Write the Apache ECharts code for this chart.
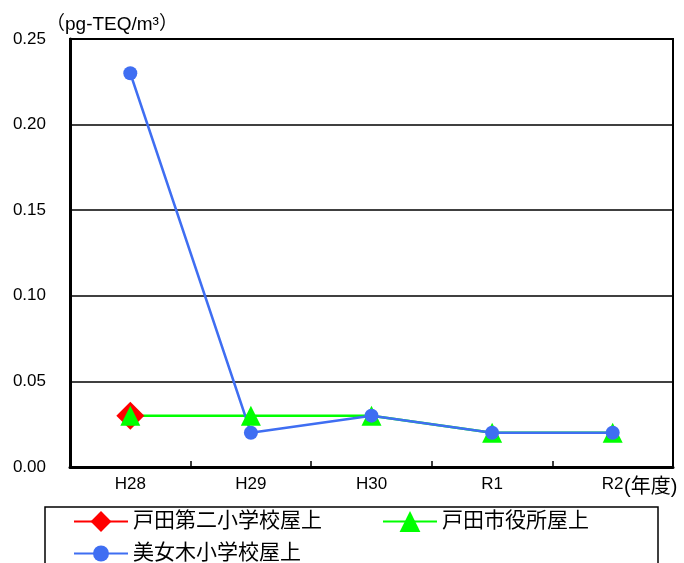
<!DOCTYPE html>
<html><head><meta charset="utf-8">
<script src="https://cdn.jsdelivr.net/npm/echarts@6/dist/echarts.min.js"></script>
<style>html,body{margin:0;padding:0;background:#fff}#c{width:684px;height:563px}</style>
</head><body><div id="c"></div>
<script>
const categories = ['H28', 'H29', 'H30', 'R1', 'R2'];
const seriesNames = ['戸田第二小学校屋上', '戸田市役所屋上', '美女木小学校屋上'];
const todaDaini = [0.03, null, null, null, null];
const shiyakusho = [0.03, 0.03, 0.03, 0.02, 0.02];
const bijogi = [0.23, 0.02, 0.03, 0.02, 0.02];
const yTicks = { min: 0, max: 0.25, interval: 0.05 };
const unitText = '（pg-TEQ/m³）';
const xUnitText = '(年度)';

const font = '"Liberation Sans", Arial, "Noto Sans CJK JP", sans-serif';
const chart = echarts.init(document.getElementById('c'));
chart.setOption({
  animation: false,
  textStyle: { fontFamily: font },
  title: { text: unitText, left: 46, top: 15, padding: 0, textStyle: { fontSize: 19, fontWeight: 'normal', color: '#000', fontFamily: font } },
  grid: { left: 70, right: 11, top: 39, bottom: 96, show: true, borderColor: '#000', borderWidth: 2, backgroundColor: 'transparent' },
  xAxis: {
    type: 'category', data: categories, boundaryGap: true,
    axisLine: { lineStyle: { color: '#000', width: 3 } },
    axisTick: { show: true, inside: true, length: 6, lineStyle: { color: '#000', width: 1.5 } },
    axisLabel: { color: '#000', fontSize: 17, margin: 9, fontFamily: font }
  },
  yAxis: {
    type: 'value', min: yTicks.min, max: yTicks.max, interval: yTicks.interval,
    axisLine: { show: true, lineStyle: { color: '#000', width: 3 } },
    axisTick: { show: false },
    axisLabel: { color: '#000', fontSize: 17, margin: 24, fontFamily: font, formatter: v => v.toFixed(2) },
    splitLine: { lineStyle: { color: '#000', width: 1.5 } }
  },
  legend: [
    { data: [seriesNames[0], seriesNames[1]], left: 73, top: 511, padding: 0, itemWidth: 54, itemHeight: 26, itemGap: 60,
      textStyle: { fontSize: 21, color: '#000', fontFamily: font } },
    { data: [seriesNames[2]], left: 73, top: 543, padding: 0, itemWidth: 54, itemHeight: 20,
      textStyle: { fontSize: 21, color: '#000', fontFamily: font } }
  ],
  graphic: [
    { type: 'rect', shape: { x: 45, y: 507, width: 613, height: 70 }, style: { fill: 'none', stroke: '#000', lineWidth: 1.5 }, silent: true },
    { type: 'text', left: 624, top: 477, style: { text: xUnitText, fontSize: 20, fill: '#000', fontFamily: font } }
  ],
  series: [
    { name: seriesNames[0], type: 'line', data: todaDaini, symbol: 'diamond', symbolSize: 28,
      itemStyle: { color: '#ff0000' }, lineStyle: { color: '#ff0000', width: 2.5 } },
    { name: seriesNames[1], type: 'line', data: shiyakusho, symbol: 'triangle', symbolSize: 20,
      itemStyle: { color: '#00ff00' }, lineStyle: { color: '#00ff00', width: 2.5 } },
    { name: seriesNames[2], type: 'line', data: bijogi, symbol: 'circle', symbolSize: 14,
      itemStyle: { color: '#3f6ef2' }, lineStyle: { color: '#3f6ef2', width: 2.5 } }
  ]
});
</script></body></html>
